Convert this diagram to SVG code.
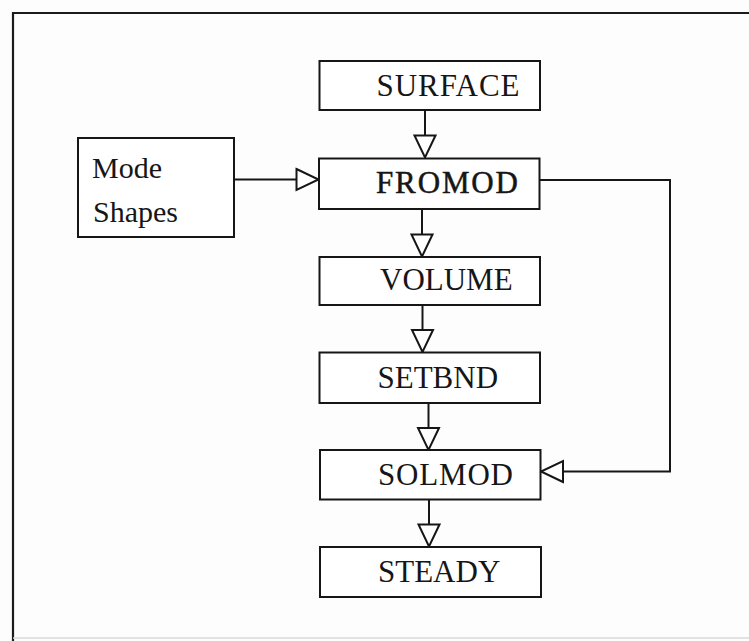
<svg xmlns="http://www.w3.org/2000/svg" width="749" height="641" viewBox="0 0 749 641">
  <style>
    .box { fill: #ffffff; stroke: #161616; stroke-width: 2; }
    .lbl { font-family: "Liberation Serif", "Times New Roman", serif; font-size: 31px; fill: #161616; }
    .side { font-family: "Liberation Serif", "Times New Roman", serif; font-size: 30px; fill: #161616; }
    .wire { fill: none; stroke: #161616; stroke-width: 2; }
    .frame { fill: none; stroke: #1a1a1a; stroke-width: 2.2; }
  </style>
  <defs>
    <marker id="open" viewBox="-2 -2 26 25" refX="22" refY="10.5" markerWidth="26" markerHeight="25" markerUnits="userSpaceOnUse" orient="auto" overflow="visible">
      <path d="M0,0 L22,10.5 L0,21 Z" fill="#ffffff" stroke="#161616" stroke-width="2" stroke-linejoin="miter"/>
    </marker>
  </defs>

  <rect width="749" height="641" fill="#fdfdfd"/>

  <!-- page frame -->
  <g id="frame">
    <path class="frame" d="M13,641 L13,13 L749,13"/>
    <path d="M13,638 L749,638" stroke="#d8d8d8" stroke-width="1.5" fill="none"/>
  </g>

  <!-- connectors -->
  <g id="connectors">
    <path class="wire" d="M425,110 L425,157.5" marker-end="url(#open)"/>
    <path class="wire" d="M234,179.5 L318.5,179.5" marker-end="url(#open)"/>
    <path class="wire" d="M422,209 L422,256.5" marker-end="url(#open)"/>
    <path class="wire" d="M422.5,305 L422.5,352" marker-end="url(#open)"/>
    <path class="wire" d="M428.5,403 L428.5,450" marker-end="url(#open)"/>
    <path class="wire" d="M429,499 L429,546.5" marker-end="url(#open)"/>
    <path class="wire" d="M540,180 L670,180 L670,471.5 L541,471.5" marker-end="url(#open)"/>
  </g>

  <g id="mode-shapes">
    <rect class="box" x="78" y="138" width="156" height="99"/>
    <text class="side" x="92" y="178">Mode</text>
    <text class="side" x="93" y="221.5">Shapes</text>
  </g>

  <g id="surface">
    <rect class="box" x="319.5" y="61" width="220.5" height="49"/>
    <text class="lbl" x="376.5" y="95.5" textLength="143" lengthAdjust="spacing">SURFACE</text>
  </g>

  <g id="fromod">
    <rect class="box" x="319" y="158.5" width="220.5" height="50.5"/>
    <text class="lbl" x="376" y="193" textLength="142" lengthAdjust="spacing" stroke="#161616" stroke-width="0.5">FROMOD</text>
  </g>

  <g id="volume">
    <rect class="box" x="319.5" y="257" width="220.5" height="48"/>
    <text class="lbl" x="380" y="290">VOLUME</text>
  </g>

  <g id="setbnd">
    <rect class="box" x="319.5" y="352.5" width="220.5" height="50.5"/>
    <text class="lbl" x="377.5" y="387.5">SETBND</text>
  </g>

  <g id="solmod">
    <rect class="box" x="320" y="450" width="220.5" height="49.5"/>
    <text class="lbl" x="378" y="485" textLength="135" lengthAdjust="spacing">SOLMOD</text>
  </g>

  <g id="steady">
    <rect class="box" x="320" y="547" width="221" height="50"/>
    <text class="lbl" x="378" y="581.5">STEADY</text>
  </g>
</svg>
